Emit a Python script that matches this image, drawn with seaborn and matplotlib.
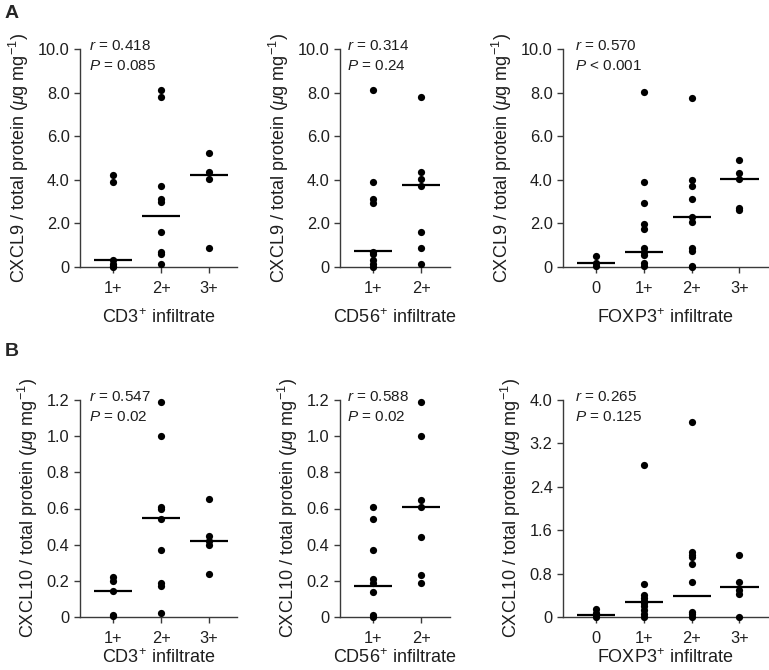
import numpy as np
import pandas as pd
import matplotlib
matplotlib.use("Agg")
import matplotlib.pyplot as plt
import seaborn as sns

sns.set_style("ticks")
plt.rcParams['font.family'] = ['Liberation Sans', 'DejaVu Sans']
plt.rcParams['mathtext.fontset'] = 'custom'
plt.rcParams['mathtext.rm'] = 'Liberation Sans'
plt.rcParams['mathtext.it'] = 'Liberation Sans:italic'
plt.rcParams['mathtext.bf'] = 'Liberation Sans:bold'

# ---- data ----
# row A: CXCL9
cd3_cats = ["1+", "2+", "3+"]
cd56_cats = ["1+", "2+"]
foxp3_cats = ["0", "1+", "2+", "3+"]

cxcl9_cd3 = [[4.2, 3.9, 0.3, 0.15, 0.05, 0.0],
             [8.1, 7.8, 3.7, 3.1, 3.0, 1.6, 0.7, 0.6, 0.15],
             [5.25, 4.35, 4.05, 0.85]]
cxcl9_cd3_med = [0.32, 2.33, 4.2]

cxcl9_cd56 = [[8.1, 3.9, 3.1, 2.95, 0.7, 0.6, 0.3, 0.15, 0.0],
              [7.8, 4.35, 4.05, 3.7, 1.6, 0.85, 0.15]]
cxcl9_cd56_med = [0.75, 3.75]

cxcl9_foxp3 = [[0.5, 0.2, 0.05],
               [8.05, 3.9, 2.95, 1.95, 1.75, 0.85, 0.7, 0.55, 0.2, 0.05],
               [7.75, 4.0, 3.7, 3.1, 2.3, 2.05, 0.85, 0.75, 0.05, 0.0],
               [4.9, 4.3, 4.05, 2.7, 2.6]]
cxcl9_foxp3_med = [0.2, 0.67, 2.3, 4.05]

# row B: CXCL10
cxcl10_cd3 = [[0.22, 0.2, 0.145, 0.01, 0.005],
              [1.19, 1.0, 0.61, 0.6, 0.54, 0.37, 0.19, 0.17, 0.02],
              [0.65, 0.45, 0.42, 0.4, 0.24]]
cxcl10_cd3_med = [0.145, 0.545, 0.42]

cxcl10_cd56 = [[0.61, 0.54, 0.37, 0.21, 0.19, 0.14, 0.01, 0.0],
               [1.19, 1.0, 0.645, 0.61, 0.44, 0.23, 0.19]]
cxcl10_cd56_med = [0.17, 0.61]

cxcl10_foxp3 = [[0.15, 0.08, 0.03, 0.0],
                [2.8, 0.6, 0.4, 0.35, 0.3, 0.25, 0.2, 0.12, 0.05, 0.0],
                [3.6, 1.2, 1.15, 1.1, 0.97, 0.65, 0.1, 0.05, 0.0],
                [1.15, 0.65, 0.5, 0.42, 0.0]]
cxcl10_foxp3_med = [0.045, 0.28, 0.38, 0.555]

stats = [["0.418", "= 0.085"], ["0.314", "= 0.24"], ["0.570", "< 0.001"],
         ["0.547", "= 0.02"], ["0.588", "= 0.02"], ["0.265", "= 0.125"]]

xlabels = ["CD3$^{+}$ infiltrate", "CD56$^{+}$ infiltrate", "FOXP3$^{+}$ infiltrate"]

a_ticks = [0, 2, 4, 6, 8, 10]
a_labels = ["0", "2.0", "4.0", "6.0", "8.0", "10.0"]
b_ticks = [0, 0.2, 0.4, 0.6, 0.8, 1.0, 1.2]
b_labels = ["0", "0.2", "0.4", "0.6", "0.8", "1.0", "1.2"]
c_ticks = [0, 0.8, 1.6, 2.4, 3.2, 4.0]
c_labels = ["0", "0.8", "1.6", "2.4", "3.2", "4.0"]

panels = [
    (cd3_cats, cxcl9_cd3, cxcl9_cd3_med, a_ticks, a_labels, 10, "CXCL9"),
    (cd56_cats, cxcl9_cd56, cxcl9_cd56_med, a_ticks, a_labels, 10, "CXCL9"),
    (foxp3_cats, cxcl9_foxp3, cxcl9_foxp3_med, a_ticks, a_labels, 10, "CXCL9"),
    (cd3_cats, cxcl10_cd3, cxcl10_cd3_med, b_ticks, b_labels, 1.2, "CXCL10"),
    (cd56_cats, cxcl10_cd56, cxcl10_cd56_med, b_ticks, b_labels, 1.2, "CXCL10"),
    (foxp3_cats, cxcl10_foxp3, cxcl10_foxp3_med, c_ticks, c_labels, 4.0, "CXCL10"),
]

W, H = 769, 670
fig = plt.figure(figsize=(W / 100, H / 100), dpi=100)
unit = 47.7
lefts = [80, 340, 563]
rows = [(49, 267), (400, 617)]
spine_col = "#3a3a3a"
txt_col = "#1e1e1e"

for k, (cats, vals, meds, ticks, tlabels, ymax, chem) in enumerate(panels):
    r, c = divmod(k, 3)
    n = len(cats)
    width = (n + 0.3) * unit
    top, bot = rows[r]
    ax = fig.add_axes([lefts[c] / W, 1 - bot / H, width / W, (bot - top) / H])

    df = pd.DataFrame({"cat": np.repeat(cats, [len(v) for v in vals]),
                       "val": np.concatenate(vals)})
    sns.stripplot(data=df, x="cat", y="val", order=cats, jitter=False,
                  color="black", size=5.2, linewidth=0, ax=ax,
                  clip_on=False, zorder=5)
    ax.hlines(meds, np.arange(n) - 0.4, np.arange(n) + 0.4,
              color="black", linewidth=1.6, zorder=4)

    ax.set_xlim(-0.7, n - 0.4)
    ax.set_ylim(0, ymax)
    ax.set_yticks(ticks)
    ax.set_yticklabels(tlabels)
    sns.despine(ax=ax)
    for s in ["left", "bottom"]:
        ax.spines[s].set_color(spine_col)
        ax.spines[s].set_linewidth(1.0)
    ax.tick_params(axis="both", colors=spine_col, labelcolor=txt_col,
                   labelsize=11.8, length=4, width=1.0)
    ax.tick_params(axis="x", pad=6)
    ax.set_ylabel(chem + r" / total protein ($\mathit{\mu}$g mg$^{-1}$)",
                  fontsize=13, color=txt_col, labelpad=5)
    ax.set_xlabel(xlabels[c], fontsize=13, color=txt_col,
                  labelpad=9 if r == 0 else 1.5)

    rv, pv = stats[k]
    ax.text(0.06, 1.045, "$r$ = " + rv, transform=ax.transAxes,
            fontsize=11, va="top", ha="left", color=txt_col)
    ax.text(0.06, 0.955, "$P$ " + pv, transform=ax.transAxes,
            fontsize=11, va="top", ha="left", color=txt_col)

fig.text(0.006, 0.98, "A", fontsize=14, fontweight="bold", va="center")
fig.text(0.006, 0.475, "B", fontsize=14, fontweight="bold", va="center")

fig.savefig("out.png", dpi=100)
